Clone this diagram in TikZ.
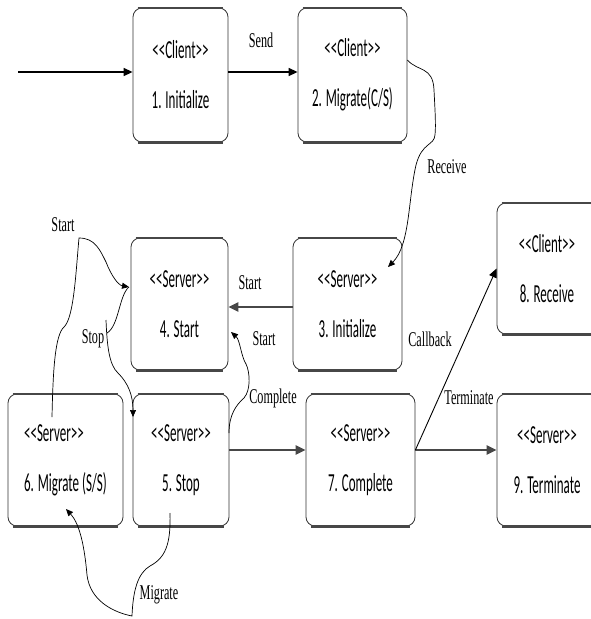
\documentclass[tikz,border=0pt]{standalone}
\usepackage{fontspec}
\usetikzlibrary{arrows.meta}
\newfontfamily\boxfont[FakeStretch=0.5]{Carlito}
\newfontfamily\labfont[FakeStretch=0.58]{Liberation Serif}
% keep the angle brackets of stereotypes from turning into guillemets
\newcommand\stopen{<\kern0pt<}
\newcommand\stclose{>\kern0pt>}

\begin{document}
\begin{tikzpicture}[x=1pt,y=-1pt,
  state/.style={draw=black!80, line width=0.8pt, rounded corners=9pt,
    inner sep=0pt, align=center, font=\boxfont\fontsize{26}{50}\selectfont},
  rim/.style={line width=2.2pt, draw=black!72},
  main/.style={line width=1.4pt, -{Triangle[length=9pt,width=8pt]}},
  heavy/.style={line width=2.6pt, draw=black!72, -{Triangle[length=10pt,width=9pt]}},
  thin/.style={line width=0.7pt, -{Triangle[length=7pt,width=6pt]}},
  lab/.style={font=\labfont\fontsize{21}{21}\selectfont, inner sep=0pt}]

\useasboundingbox (0,0) rectangle (591,619);

% states
\node[state, minimum width=95, minimum height=134] (b1) at (180.5,75) {\stopen Client\stclose\\1. Initialize};
\node[state, minimum width=109, minimum height=134] (b2) at (352.5,75) {\stopen Client\stclose\\2. Migrate(C/S)};
\node[state, minimum width=109, minimum height=132] (b3) at (347.5,304) {\stopen Server\stclose\\3. Initialize};
\node[state, minimum width=97, minimum height=132] (b4) at (179.5,304) {\stopen Server\stclose\\4. Start};
\node[state, minimum width=100, minimum height=131] (b8) at (547,268.5) {\stopen Client\stclose\\8. Receive};
\node[state, minimum width=115, minimum height=132, align=left] (b6) at (65.5,460) {\stopen Server\stclose\\6. Migrate (S/S)};
\node[state, minimum width=96, minimum height=132] (b5) at (181,460) {\stopen Server\stclose\\5. Stop};
\node[state, minimum width=109, minimum height=132] (b7) at (360.5,460) {\stopen Server\stclose\\7. Complete};
\node[state, minimum width=100, minimum height=132] (b9) at (547,460) {\stopen Server\stclose\\9. Terminate};

% heavier top and bottom rims
\foreach \n in {b1,b2,b3,b4,b5,b6,b7,b8,b9} {
  \draw[rim] ([xshift=5pt]\n.north west) -- ([xshift=-5pt]\n.north east);
  \draw[rim] ([xshift=5pt]\n.south west) -- ([xshift=-5pt]\n.south east);
}

% attachment points
\coordinate (in0) at (18,72);
\coordinate (b2out) at ([yshift=15pt]b2.east);
\coordinate (b3in) at (388,267);
\coordinate (b4in) at (129,287);
\coordinate (b4in2) at (231,332);
\coordinate (b5top) at (133,417);
\coordinate (b5out) at (229,433);
\coordinate (b5low) at (170,513);
\coordinate (b6low) at (66,509);
\coordinate (b6top) at (52,417);
\coordinate (stopA) at (107,333);
\coordinate (stopB) at (106,320);

% straight transitions
\draw[main] (in0) -- (in0 -| b1.west);
\draw[main] ([yshift=3pt]b1.east) -- ([yshift=3pt]b2.west);
\draw[heavy] ([yshift=-3pt]b3.west) -- ([yshift=-3pt]b4.east);
\draw[heavy] ([yshift=10pt]b5.east) -- ([yshift=10pt]b7.west);
\draw[heavy] ([yshift=10pt]b7.east) -- ([yshift=10pt]b9.west);
\draw[main, line width=0.9pt] ([yshift=10pt]b7.east) -- (b8.west);

% curved transitions
\draw[thin] (b2out) .. controls (418,72) and (433,66) .. (434,90)
  .. controls (435,110) and (436,125) .. (435,135)
  .. controls (434,146) and (422,142) .. (416,165)
  .. controls (408,200) and (410,245) .. (b3in);
\draw[thin] (b6top) .. controls (53,370) and (55,335) .. (64,327)
  .. controls (74,318) and (76,270) .. (79,238)
  .. controls (95,238) and (100,250) .. (106,262)
  .. controls (111,275) and (118,285) .. (b4in);
\draw[thin] (b4in) .. controls (119,295) and (119,326) .. (stopA)
  (stopB) .. controls (107,345) and (109,365) .. (118,373)
  .. controls (128,383) and (133,395) .. (b5top);
\draw[thin] (b5out) .. controls (229,415) and (236,405) .. (244,398)
  .. controls (251,390) and (250,372) .. (246,364)
  .. controls (241,356) and (240,340) .. (b4in2);
\draw[thin] (b5low) .. controls (171,545) and (165,558) .. (150,566)
  .. controls (138,573) and (133,590) .. (132,616)
  .. controls (112,612) and (90,600) .. (87,575)
  .. controls (84,540) and (78,522) .. (b6low);

% transition labels
\node[lab] (lsend) at (261,40) {Send};
\node[lab] (lrecv) at (447,167) {Receive};
\node[lab] (lstart1) at (63,225) {Start};
\node[lab] (lstart2) at (250,283) {Start};
\node[lab] (lstart3) at (264,339) {Start};
\node[lab] (lstop) at (93,339) {Stop};
\node[lab] (lcall) at (430,339) {Callback};
\node[lab] (lcomp) at (273,398) {Complete};
\node[lab] (lterm) at (469,398) {Terminate};
\node[lab] (lmig) at (159,595) {Migrate};
\end{tikzpicture}
\end{document}
